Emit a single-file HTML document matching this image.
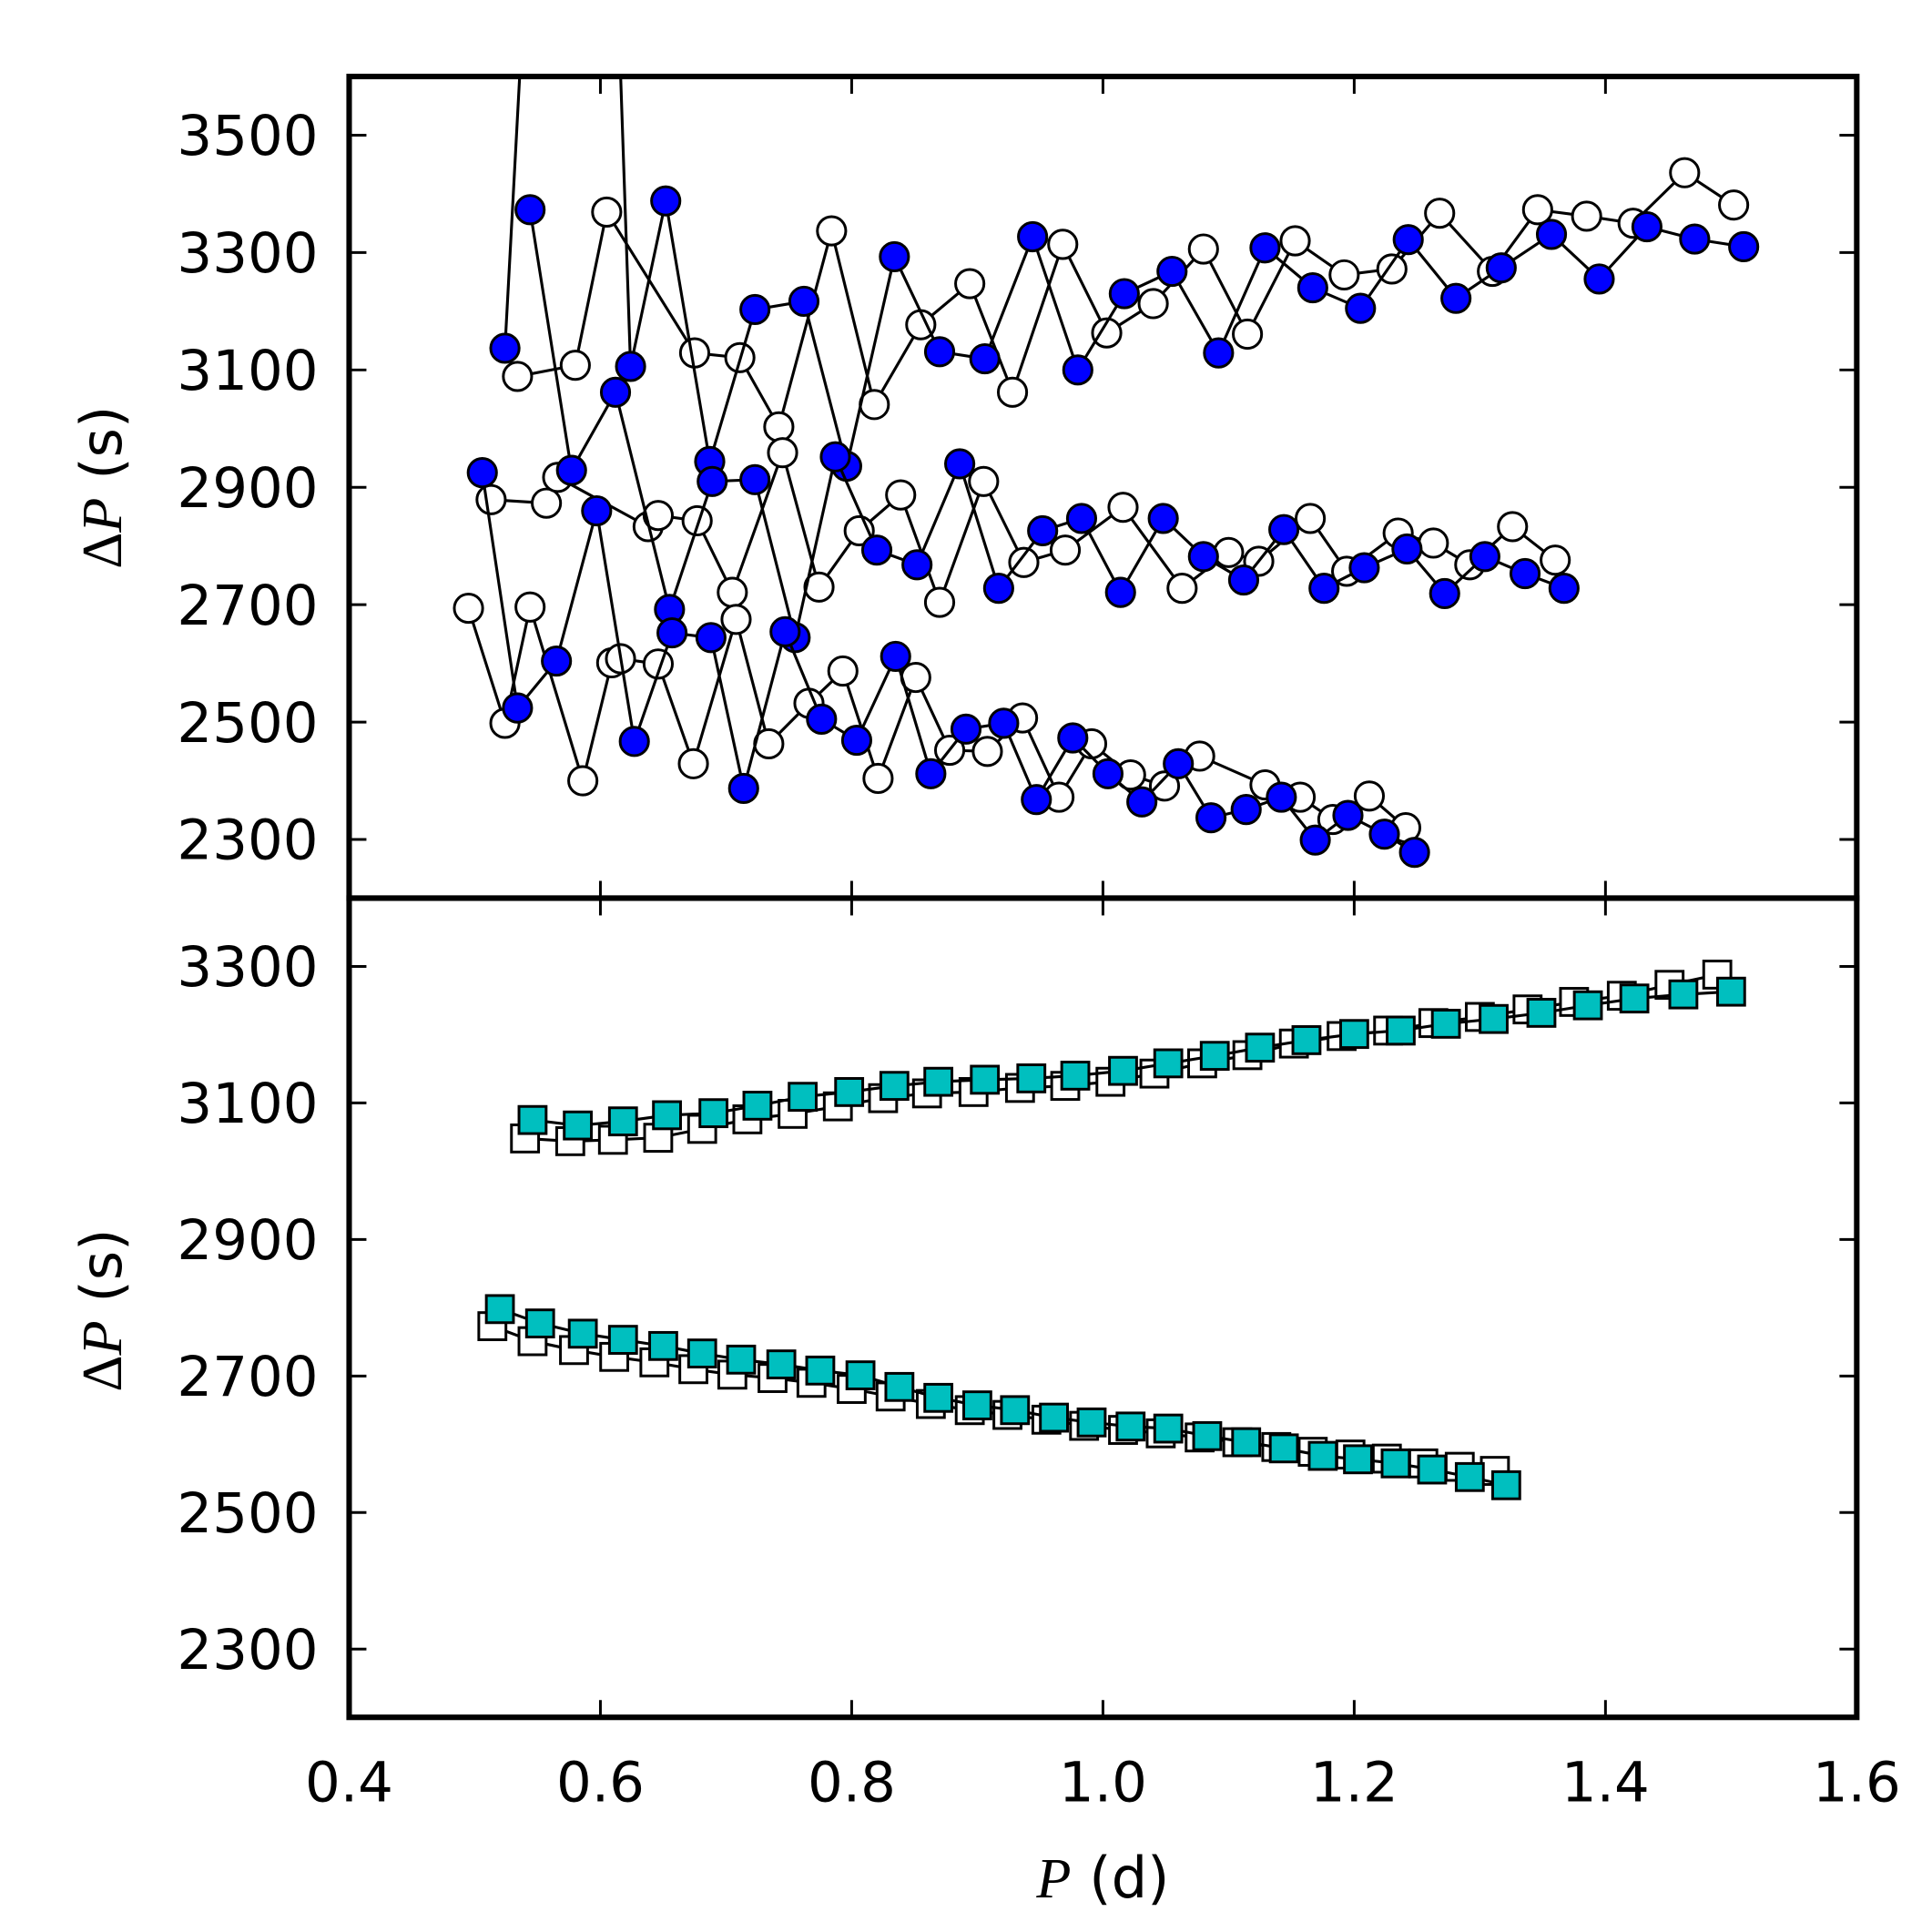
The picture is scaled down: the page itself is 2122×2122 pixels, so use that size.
<!DOCTYPE html>
<html><head><meta charset="utf-8"><style>
html,body{margin:0;padding:0;background:#fff}
svg{display:block}
text{font-family:"DejaVu Sans","Liberation Sans",sans-serif;fill:#000}
</style></head><body>
<svg id="chart" width="2122" height="2122" viewBox="0 0 1566 1566" xmlns="http://www.w3.org/2000/svg">
<defs>
<clipPath id="clipTop"><rect x="283" y="62" width="1222" height="666"/></clipPath>
<clipPath id="clipBot"><rect x="283" y="728" width="1222" height="664"/></clipPath>
</defs>
<g id="layer"></g>
</svg>
<script>
// ---- data ----
const xTicks = [0.4,0.6,0.8,1.0,1.2,1.4,1.6];
const xTickLabels = ["0.4","0.6","0.8","1.0","1.2","1.4","1.6"];
const topYTicks = [2300,2500,2700,2900,3100,3300,3500];
const botYTicks = [2300,2500,2700,2900,3100,3300];

const filledA = [[0.524,3137],[0.585,5550],[0.624,3106],[0.652,3388],[0.687,2944],[0.723,3203],[0.762,3217],[0.796,2936],[0.834,3293],[0.870,3131],[0.906,3119],[0.944,3327],[0.980,3100],[1.017,3230],[1.055,3268],[1.092,3129],[1.129,3308],[1.167,3240],[1.205,3205],[1.243,3322],[1.281,3222],[1.317,3274],[1.357,3331],[1.395,3255],[1.433,3344],[1.471,3323],[1.510,3310]];
const filledB = [[0.544,3373],[0.577,2929],[0.612,3062],[0.655,2692],[0.689,2910],[0.723,2913],[0.755,2644],[0.787,2952],[0.820,2793],[0.852,2768],[0.886,2940],[0.917,2728],[0.952,2826],[0.983,2847],[1.014,2721],[1.048,2847],[1.080,2782],[1.112,2742],[1.144,2828],[1.176,2728],[1.208,2763],[1.242,2795],[1.272,2719],[1.304,2782],[1.336,2753],[1.367,2728]];
const filledC = [[0.506,2925],[0.534,2524],[0.565,2604],[0.597,2860],[0.627,2467],[0.657,2652],[0.688,2644],[0.714,2387],[0.747,2654],[0.776,2505],[0.804,2469],[0.835,2612],[0.863,2412],[0.891,2488],[0.921,2498],[0.947,2368],[0.976,2473],[1.004,2412],[1.031,2364],[1.060,2429],[1.086,2337],[1.114,2351],[1.142,2372],[1.169,2299],[1.195,2341],[1.224,2309],[1.248,2278]];
const openA = [[0.534,3089],[0.580,3108],[0.605,3369],[0.675,3129],[0.711,3121],[0.742,3003],[0.784,3337],[0.818,3041],[0.855,3177],[0.894,3247],[0.928,3062],[0.968,3314],[1.003,3163],[1.040,3213],[1.080,3306],[1.115,3161],[1.153,3320],[1.192,3262],[1.230,3272],[1.268,3367],[1.310,3268],[1.346,3373],[1.385,3362],[1.422,3350],[1.463,3436],[1.502,3381]];
const openB = [[0.513,2879],[0.557,2873],[0.566,2917],[0.638,2833],[0.646,2852],[0.677,2843],[0.705,2721],[0.745,2959],[0.774,2730],[0.806,2826],[0.839,2887],[0.870,2704],[0.905,2910],[0.937,2772],[0.970,2793],[1.016,2866],[1.063,2728],[1.100,2789],[1.124,2774],[1.165,2847],[1.194,2757],[1.235,2822],[1.263,2805],[1.292,2768],[1.326,2833],[1.360,2776]];
const openC = [[0.495,2694],[0.524,2498],[0.544,2696],[0.586,2400],[0.609,2601],[0.616,2608],[0.646,2599],[0.674,2429],[0.708,2675],[0.734,2463],[0.766,2532],[0.793,2587],[0.821,2404],[0.851,2576],[0.878,2452],[0.908,2450],[0.936,2507],[0.965,2372],[0.991,2463],[1.022,2410],[1.049,2391],[1.077,2442],[1.129,2393],[1.157,2372],[1.183,2334],[1.212,2374],[1.241,2320]];

const tealUpper = [[0.546,3075],[0.582,3067],[0.618,3073],[0.653,3082],[0.690,3085],[0.725,3096],[0.761,3109],[0.798,3116],[0.834,3125],[0.869,3131],[0.906,3134],[0.943,3136],[0.978,3140],[1.016,3147],[1.052,3158],[1.089,3169],[1.125,3181],[1.162,3192],[1.200,3201],[1.237,3206],[1.273,3216],[1.311,3223],[1.349,3232],[1.386,3243],[1.423,3253],[1.462,3259],[1.500,3263]];
const sqOpenUpper = [[0.540,3048],[0.576,3044],[0.610,3046],[0.646,3049],[0.681,3062],[0.717,3076],[0.753,3084],[0.789,3095],[0.825,3107],[0.860,3114],[0.897,3116],[0.934,3122],[0.970,3125],[1.006,3131],[1.041,3143],[1.079,3158],[1.115,3170],[1.152,3187],[1.190,3198],[1.227,3206],[1.263,3217],[1.300,3226],[1.338,3237],[1.375,3248],[1.413,3257],[1.451,3273],[1.489,3288]];
const tealLower = [[0.520,2798],[0.552,2777],[0.586,2762],[0.618,2753],[0.650,2744],[0.681,2733],[0.712,2724],[0.744,2717],[0.775,2708],[0.807,2701],[0.838,2684],[0.869,2668],[0.900,2657],[0.930,2650],[0.961,2639],[0.991,2632],[1.022,2626],[1.052,2623],[1.083,2612],[1.114,2603],[1.144,2594],[1.175,2583],[1.203,2578],[1.233,2572],[1.262,2563],[1.292,2552],[1.321,2540]];
const sqOpenLower = [[0.514,2773],[0.546,2751],[0.579,2738],[0.611,2728],[0.643,2720],[0.674,2710],[0.705,2702],[0.737,2697],[0.768,2690],[0.800,2681],[0.831,2670],[0.863,2659],[0.894,2650],[0.924,2643],[0.955,2636],[0.985,2627],[1.016,2621],[1.046,2616],[1.077,2610],[1.107,2603],[1.138,2596],[1.167,2589],[1.197,2585],[1.226,2579],[1.255,2572],[1.284,2567],[1.312,2561]];

// ---- scales ----
const L=283,R=1505,T1=62,B1=728,T2=728,B2=1392;
const xS = p => L + (p-0.4)/(1.2)*(R-L);
const yTop = v => B1 - (v-2200)/1400*(B1-T1);
const yBot = v => B2 - (v-2200)/1200*(B2-T2);

const NS="http://www.w3.org/2000/svg";
const layer=document.getElementById('layer');
function mk(tag,attrs,parent){const e=document.createElementNS(NS,tag);for(const k in attrs)e.setAttribute(k,attrs[k]);(parent||layer).appendChild(e);return e;}

function series(data, ys, kind, fill, name, clip){
  const g=mk('g',{'clip-path':'url(#'+clip+')'});
  
  
  const pts=data.map(d=>xS(d[0]).toFixed(1)+','+ys(d[1]).toFixed(1)).join(' ');
  const pl=mk('polyline',{points:pts,fill:'none',stroke:'#000','stroke-width':2.3},g);
  
  
  data.forEach(d=>{
    const cx=xS(d[0]), cy=ys(d[1]);
    let m;
    if(kind==='circle') m=mk('circle',{cx:cx,cy:cy,r:11.5,fill:fill,stroke:'#000','stroke-width':2.2},g);
    else m=mk('rect',{x:cx-11,y:cy-11,width:22,height:22,fill:fill,stroke:'#000','stroke-width':2.2},g);
    
    
  });
}
series(openA,yTop,'circle','#fff','open-series-upper','clipTop');
series(openB,yTop,'circle','#fff','open-series-middle','clipTop');
series(openC,yTop,'circle','#fff','open-series-lower','clipTop');
series(filledA,yTop,'circle','#0000ff','filled-series-upper','clipTop');
series(filledB,yTop,'circle','#0000ff','filled-series-middle','clipTop');
series(filledC,yTop,'circle','#0000ff','filled-series-lower','clipTop');
series(sqOpenUpper,yBot,'square','#fff','open-square-upper','clipBot');
series(sqOpenLower,yBot,'square','#fff','open-square-lower','clipBot');
series(tealUpper,yBot,'square','#00bfbf','teal-square-upper','clipBot');
series(tealLower,yBot,'square','#00bfbf','teal-square-lower','clipBot');

// ticks
const tk=mk('g',{stroke:'#000','stroke-width':2.2});


xTicks.forEach(v=>{const x=xS(v);
  [[T1,1],[B1,-1],[T2,1],[B2,-1]].forEach(a=>{mk('line',{x1:x,x2:x,y1:a[0],y2:a[0]+a[1]*14},tk);});
});
topYTicks.forEach(v=>{const y=yTop(v);mk('line',{x1:L,x2:L+14,y1:y,y2:y},tk);mk('line',{x1:R,x2:R-14,y1:y,y2:y},tk);
  const t=mk('text',{x:258,y:y+16,'text-anchor':'end','font-size':45});t.textContent=v;
  
  });
botYTicks.forEach(v=>{const y=yBot(v);mk('line',{x1:L,x2:L+14,y1:y,y2:y},tk);mk('line',{x1:R,x2:R-14,y1:y,y2:y},tk);
  const t=mk('text',{x:258,y:y+16,'text-anchor':'end','font-size':45});t.textContent=v;
  
  });
xTicks.forEach((v,i)=>{const t=mk('text',{x:xS(v),y:1460,'text-anchor':'middle','font-size':45});t.textContent=xTickLabels[i];
  
  });

// frames
const f1=mk('rect',{x:L,y:T1,width:R-L,height:B1-T1,fill:'none',stroke:'#000','stroke-width':4.5});


const f2=mk('rect',{x:L,y:T2,width:R-L,height:B2-T2,fill:'none',stroke:'#000','stroke-width':4.5});



// axis labels
function ylab(cy,name){
  const t=mk('text',{transform:'translate(98,'+cy+') rotate(-90)','text-anchor':'middle','font-size':46});
  t.innerHTML='<tspan font-family="Liberation Serif, serif">Δ</tspan><tspan font-family="Liberation Serif, serif" font-style="italic">P</tspan><tspan> (s)</tspan>';
  
  
}
ylab(395,'top-y-axis-title');
ylab(1062,'bottom-y-axis-title');
const xl=mk('text',{x:894,y:1538,'text-anchor':'middle','font-size':46});
xl.innerHTML='<tspan font-family="Liberation Serif, serif" font-style="italic">P</tspan><tspan> (d)</tspan>';


</script>
</body></html>
